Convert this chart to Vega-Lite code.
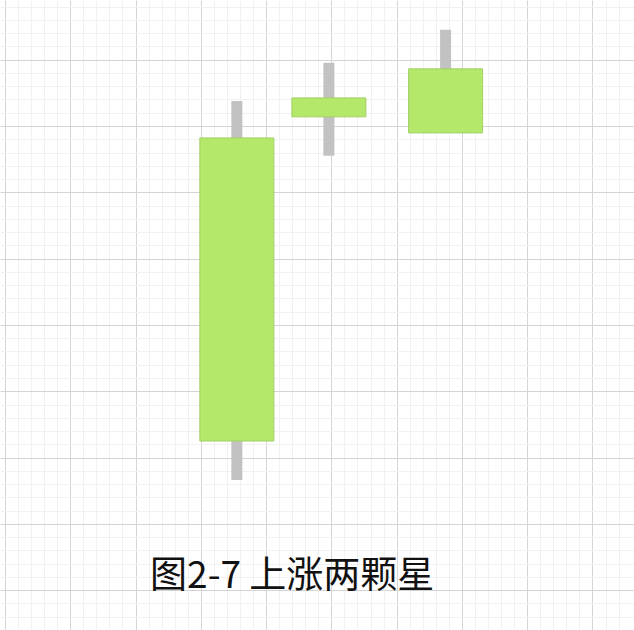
{
  "$schema": "https://vega.github.io/schema/vega-lite/v6.json",
  "width": 634,
  "height": 630,
  "autosize": {"type": "fit", "contains": "padding"},
  "padding": 0,
  "background": "#ffffff",
  "config": {"view": {"stroke": null}},
  "datasets": {
    "candles": [
      {"day": 17.76, "open": 11.25, "close": 34.1, "low": 8.31, "high": 36.89},
      {"day": 24.81, "open": 35.69, "close": 37.12, "low": 32.75, "high": 39.76},
      {"day": 33.75, "open": 34.48, "close": 39.31, "low": 34.48, "high": 42.25}
    ],
    "caption": [
      {"label": "图2-7 上涨两颗星", "x": 22.0, "y": 0.98}
    ]
  },
  "layer": [
    {
      "data": {"name": "candles"},
      "mark": {"type": "rule", "color": "#c2c2c2", "strokeWidth": 11},
      "encoding": {
        "x": {
          "field": "day",
          "type": "quantitative",
          "scale": {"domain": [0, 47.8], "nice": false, "zero": false},
          "axis": {
            "title": null, "labels": false, "ticks": false, "domain": false, "tickCount": 200,
            "values": [0,1,2,3,4,5,6,7,8,9,10,11,12,13,14,15,16,17,18,19,20,21,22,23,24,25,26,27,28,29,30,31,32,33,34,35,36,37,38,39,40,41,42,43,44,45,46,47],
            "gridColor": {"condition": {"test": "datum.value % 5 === 0", "value": "#d4d4d4"}, "value": "#f1f1f1"}
          }
        },
        "y": {
          "field": "low",
          "type": "quantitative",
          "scale": {"domain": [-3, 44.5], "nice": false, "zero": false},
          "axis": {
            "title": null, "labels": false, "ticks": false, "domain": false, "tickCount": 200,
            "values": [-3,-2,-1,0,1,2,3,4,5,6,7,8,9,10,11,12,13,14,15,16,17,18,19,20,21,22,23,24,25,26,27,28,29,30,31,32,33,34,35,36,37,38,39,40,41,42,43,44],
            "gridColor": {"condition": {"test": "datum.value % 5 === 0", "value": "#d4d4d4"}, "value": "#f1f1f1"}
          }
        },
        "y2": {"field": "high"}
      }
    },
    {
      "data": {"name": "candles"},
      "mark": {"type": "bar", "width": 74, "fill": "#b4e86a", "stroke": "#a2cf66", "strokeWidth": 1},
      "encoding": {
        "x": {"field": "day", "type": "quantitative"},
        "y": {"field": "open", "type": "quantitative"},
        "y2": {"field": "close"}
      }
    },
    {
      "data": {"name": "caption"},
      "mark": {"type": "text", "font": "Noto Sans CJK SC", "fontSize": 37, "color": "#111111", "baseline": "middle", "align": "center"},
      "encoding": {
        "x": {"field": "x", "type": "quantitative"},
        "y": {"field": "y", "type": "quantitative"},
        "text": {"field": "label"}
      }
    }
  ]
}
